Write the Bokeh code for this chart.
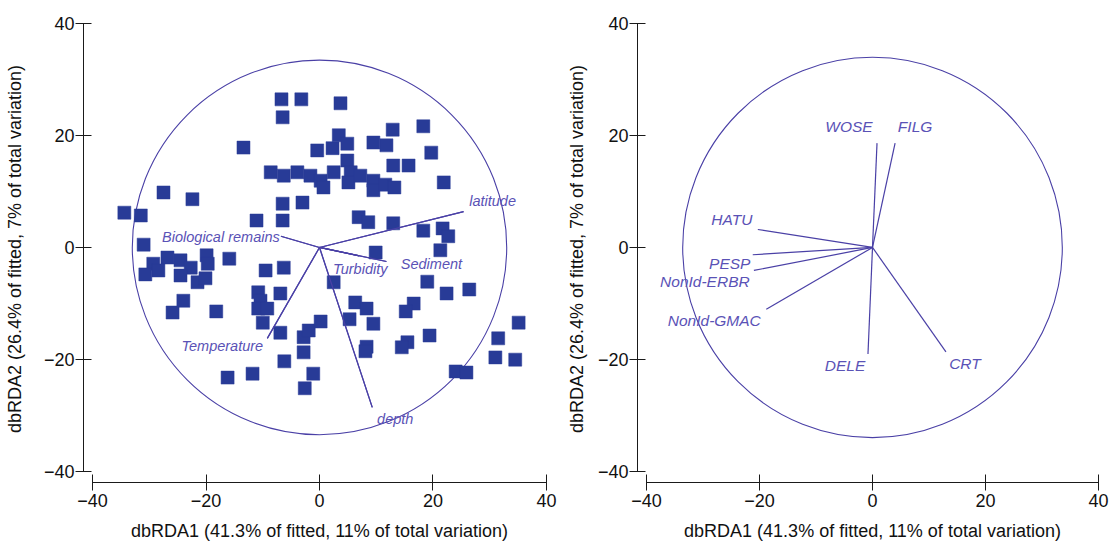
from bokeh.plotting import figure
from bokeh.layouts import row
from bokeh.models import FixedTicker, ColumnDataSource
from bokeh.core.properties import value
from bokeh.embed import file_html
from bokeh.resources import INLINE

# ---------------- data ----------------
site_x = [-6.7, -3.2, -6.5, 3.7, -13.4, -0.4, 2.3, 3.4, 4.9, 9.5, 11.8, 12.9, 18.3, 19.7,
          4.9, 13.0, 15.7, 21.9, -8.6, -6.3, -3.9, -1.6, 0.2, 0.7, 2.5, 5.5, 5.1, 7.2,
          9.5, 9.5, 11.6, 13.2, -27.5, -22.4, -34.4, -31.5, -6.5, -3.0, -11.1, -6.5,
          6.9, 8.6, 13.0, 18.3, 21.7, 22.7, 21.3, 9.9, -31.0, -29.3, -26.8, -24.5,
          -22.7, -19.9, -19.7, -15.9, -30.7, -28.4, -24.5, -21.5, -20.1, -24.0, -25.9,
          -18.2, -9.5, -6.3, -10.8, -10.4, -10.8, -6.9, -9.2, -10.0, -6.9, -2.8, -1.9,
          0.2, -2.8, -6.2, -1.1, -2.6, -11.8, -16.2, 2.5, 19.0, 22.4, 26.4, 6.3, 8.3,
          5.3, 9.5, 16.6, 15.2, 8.3, 8.1, 15.5, 14.5, 19.4, 35.1, 31.5, 31.0, 34.5,
          24.0, 25.9]
site_y = [26.4, 26.4, 23.2, 25.7, 17.8, 17.3, 17.7, 20.0, 18.5, 18.7, 18.2, 21.0, 21.6, 16.9,
          15.5, 14.6, 14.6, 11.6, 13.4, 12.8, 13.4, 12.8, 11.9, 10.7, 13.4, 13.4, 11.6, 12.8,
          11.9, 10.2, 11.2, 10.7, 9.8, 8.6, 6.2, 5.7, 7.8, 8.0, 4.8, 4.8,
          5.4, 4.5, 4.3, 3.0, 3.4, 2.0, -0.5, -0.9, 0.5, -2.9, -1.8, -2.3,
          -3.6, -1.4, -2.9, -2.0, -4.8, -4.1, -5.0, -6.2, -5.5, -9.5, -11.6,
          -11.4, -4.1, -3.6, -8.0, -9.5, -10.9, -8.2, -10.9, -13.4, -15.2, -16.0, -14.8,
          -13.2, -18.7, -20.3, -22.5, -25.1, -22.5, -23.2, -6.2, -6.1, -8.2, -7.5, -9.8, -10.9,
          -12.8, -13.6, -10.0, -11.4, -17.7, -18.5, -16.9, -17.8, -15.7, -13.4, -16.2, -19.6, -20.0,
          -22.1, -22.3]

env_names = ["Biological remains", "latitude", "Turbidity", "Sediment", "Temperature", "depth"]
env_x = [-6.8, 25.4, 7.0, 11.8, -9.2, 9.3]
env_y = [2.0, 6.4, -1.5, -2.5, -16.2, -28.5]

spp_names = ["WOSE", "FILG", "HATU", "PESP", "NonId-ERBR", "NonId-GMAC", "DELE", "CRT"]
spp_x = [0.8, 4.0, -20.3, -21.2, -21.0, -18.8, -0.8, 13.0]
spp_y = [18.6, 18.6, 3.2, -1.3, -4.1, -11.0, -19.0, -18.6]

ticks = [-40, -20, 0, 20, 40]
x_title = "dbRDA1 (41.3% of fitted, 11% of total variation)"
y_title = "dbRDA2 (26.4% of fitted, 7% of total variation)"

# ---------------- layout / style ----------------
XR = (-41.6, 41.6)
YR = (-41.9, 41.35)
FRAME_H = 467
H = 545
TOP = 15
env_label_off = [(-60, 1), (29, -11), (1, 13), (45, 3), (-45, 8), (23, 12)]   # screen px
spp_label_off = [(-28, -17), (20, -17), (-26, -10), (-23, 9), (-49, 11), (-52, 11), (-23, 11), (19, 12)]

FONT = "Liberation Sans"
PT_COL = "#283b97"
LINE_COL = "#4a40a6"
TXT_COL = "#5a52b6"


def make_fig(width, left, frame_w, ytitle_standoff):
    p = figure(width=width, height=H, x_range=XR, y_range=YR,
               output_backend="svg", toolbar_location=None,
               min_border_left=left, min_border_right=width - left - frame_w,
               min_border_top=TOP, min_border_bottom=H - TOP - FRAME_H)
    p.outline_line_color = None
    p.grid.visible = False
    p.background_fill_color = "white"
    p.border_fill_color = "white"
    for ax in (p.xaxis[0], p.yaxis[0]):
        ax.ticker = FixedTicker(ticks=ticks)
        ax.bounds = (-40, 40)
        ax.major_tick_in = 8
        ax.major_tick_out = 8
        ax.minor_tick_line_color = None
        ax.axis_line_color = "#1a1a1a"
        ax.major_tick_line_color = "#1a1a1a"
        ax.major_label_text_font = FONT
        ax.major_label_text_font_size = "18px"
        ax.major_label_text_color = "#111111"
        ax.axis_label_text_font = FONT
        ax.axis_label_text_font_size = "18px"
        ax.axis_label_text_font_style = "normal"
        ax.axis_label_text_color = "#111111"
    p.xaxis.major_label_standoff = 3
    p.yaxis.major_label_standoff = 1
    p.xaxis.axis_label_standoff = 11
    p.yaxis.axis_label_standoff = ytitle_standoff
    p.xaxis.axis_label = x_title
    p.yaxis.axis_label = y_title
    return p


def add_vectors(p, names, xs, ys, offs, rx, ry, fsize, frame_w):
    sx = frame_w / (XR[1] - XR[0])
    sy = FRAME_H / (YR[1] - YR[0])
    p.ellipse(x=0, y=0, width=2 * rx, height=2 * ry, fill_color=None,
              line_color=LINE_COL, line_width=1.1)
    p.segment(x0=[0] * len(xs), y0=[0] * len(ys), x1=xs, y1=ys,
              line_color=LINE_COL, line_width=1.2)
    lx = [x + o[0] / sx for x, o in zip(xs, offs)]
    ly = [y - o[1] / sy for y, o in zip(ys, offs)]
    src = ColumnDataSource(dict(x=lx, y=ly, t=names))
    p.text(x="x", y="y", text="t", source=src, text_font=value(FONT),
           text_font_style="italic", text_font_size=fsize, text_color=TXT_COL,
           text_align="center", text_baseline="middle")


# left panel
p1 = make_fig(560, 83, 472, 16)
add_vectors(p1, env_names, env_x, env_y, env_label_off, 33.0, 33.4, "14.5px", 472)
p1.scatter(x=site_x, y=site_y, marker="square", size=13, fill_color=PT_COL,
           line_color=PT_COL, line_width=0.5)
p1.segment(x0=[0] * len(env_x), y0=[0] * len(env_y), x1=env_x, y1=env_y,
           line_color=LINE_COL, line_width=1.2)

# right panel
p2 = make_fig(552, 77, 470, 8)
add_vectors(p2, spp_names, spp_x, spp_y, spp_label_off, 33.6, 33.9, "15.5px", 470)

layout = row(p1, p2)
open("out.html", "w").write(file_html(layout, INLINE))
